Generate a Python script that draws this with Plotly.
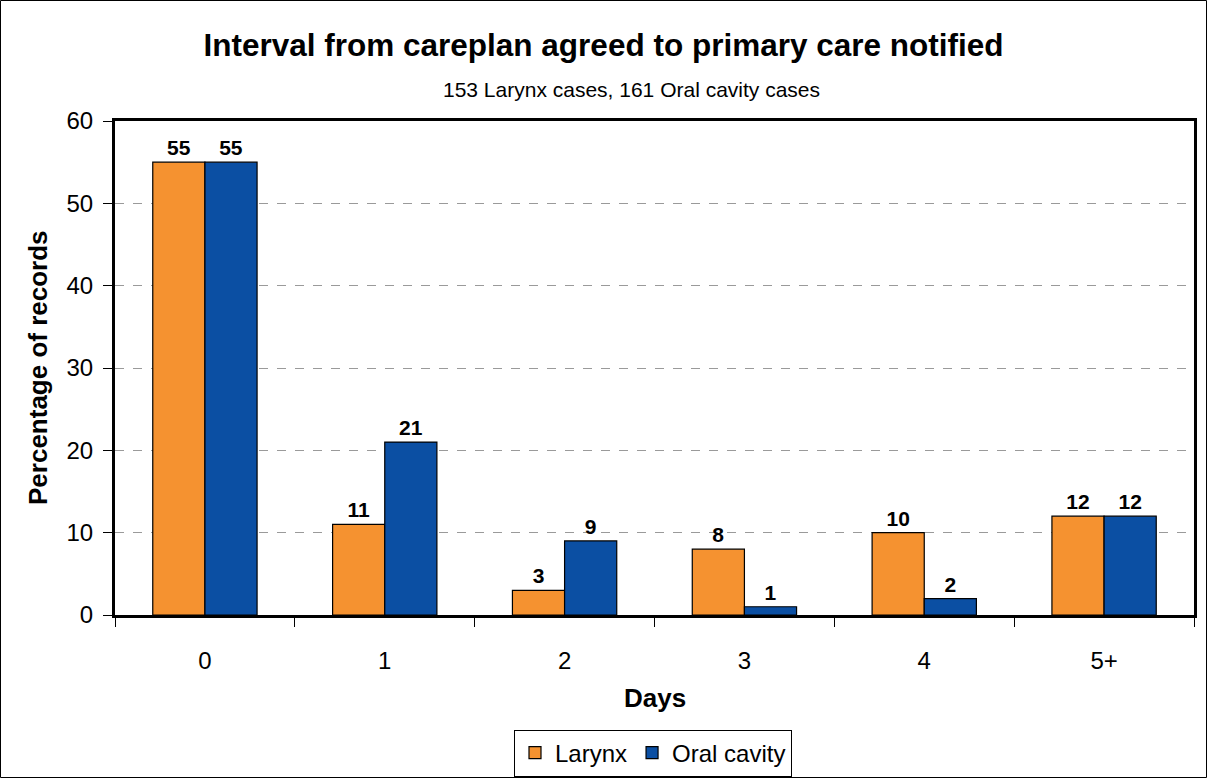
import plotly.graph_objects as go

categories = ["0", "1", "2", "3", "4", "5+"]
larynx = [55, 11, 3, 8, 10, 12]
oral_cavity = [55, 21, 9, 1, 2, 12]

ORANGE = "#F59230"
BLUE = "#0B4FA3"
FONT = "Arial, Liberation Sans, sans-serif"

fig = go.Figure()
for name, vals, col in [("Larynx", larynx, ORANGE), ("Oral cavity", oral_cavity, BLUE)]:
    fig.add_trace(go.Bar(x=categories, y=vals, name=name,
                         marker=dict(color=col, line=dict(color="black", width=1.2)),
                         texttemplate="<b>%{y}</b>", textposition="outside", cliponaxis=False,
                         textfont=dict(family=FONT, size=21, color="black")))

W, H = 1207, 778
L, R, T, B = 115, 13, 121, 163
pw, ph = W - L - R, H - T - B

def px_x(x):
    return (x - L) / pw

def px_y(y):
    return (H - B - y) / ph

fig.update_layout(
    width=W, height=H,
    margin=dict(l=L, r=R, t=T, b=B, autoexpand=False),
    paper_bgcolor="white", plot_bgcolor="white",
    font=dict(family=FONT, color="black"),
    barmode="group", bargap=0.42, bargroupgap=0,
    title=dict(text="<b>Interval from careplan agreed to primary care notified</b>",
               xref="container", x=0.5, xanchor="center",
               yref="container", y=1 - 45 / H, yanchor="middle",
               font=dict(size=31.5, family=FONT)),
    showlegend=True,
    legend=dict(orientation="h", x=px_x(653), xanchor="center",
                y=px_y(753), yanchor="middle",
                bordercolor="black", borderwidth=1,
                font=dict(size=24, family=FONT),
                traceorder="normal"),
    xaxis=dict(type="category", tickson="boundaries", ticks="outside", ticklen=9,
               tickcolor="black", tickwidth=1, tickfont=dict(size=24),
               ticklabelstandoff=22,
               showline=True, linecolor="black", linewidth=3, mirror=True,
               showgrid=False),
    yaxis=dict(range=[0, 60], dtick=10, ticks="outside", ticklen=9,
               tickcolor="black", tickwidth=1, tickfont=dict(size=24),
               ticklabelstandoff=5,
               showline=True, linecolor="black", linewidth=3, mirror=True,
               showgrid=True, gridcolor="#9A9A9A", griddash="dash", gridwidth=1,
               zeroline=False),
)

fig.add_annotation(text="153 Larynx cases, 161 Oral cavity cases",
                   xref="paper", yref="paper", x=px_x(631), y=px_y(89),
                   showarrow=False, font=dict(size=21, family=FONT),
                   xanchor="center", yanchor="middle")

fig.add_annotation(text="<b>Days</b>", xref="paper", yref="paper",
                   x=px_x(655), y=px_y(698), showarrow=False,
                   font=dict(size=26, family=FONT), xanchor="center", yanchor="middle")

fig.add_annotation(text="<b>Percentage of records</b>", xref="paper", yref="paper",
                   x=px_x(38), y=px_y(368), showarrow=False, textangle=-90,
                   font=dict(size=26, family=FONT), xanchor="center", yanchor="middle")

fig.add_shape(type="rect", xref="paper", yref="paper",
              x0=px_x(0.5), x1=px_x(W - 0.5),
              y0=px_y(H - 0.5), y1=px_y(0.5),
              line=dict(color="black", width=1), layer="below")

fig.write_html("out.html", config={"displayModeBar": False},
               post_script="document.body.style.margin='0';")
